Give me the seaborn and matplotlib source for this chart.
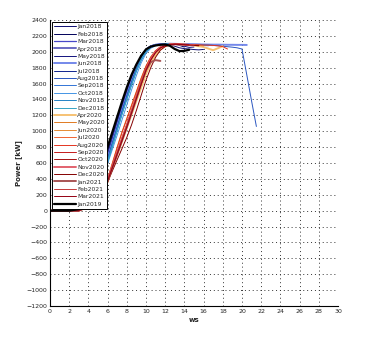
import matplotlib
matplotlib.use("Agg")
import matplotlib.pyplot as plt
import seaborn as sns
import pandas as pd

# wind-speed bins (m/s)
WS = [0, 1, 2, 3, 4, 5, 5.5, 6, 6.5, 7, 7.5, 8, 8.5, 9, 9.5, 10, 10.5, 11, 11.5,
      12, 12.5, 13, 13.5, 14, 14.5, 15, 15.5, 16, 16.5, 17, 17.5, 18, 18.5, 19,
      19.5, 20, 20.5, 21, 21.5]

labels = ["Jan2018", "Feb2018", "Mar2018", "Apr2018", "May2018", "Jun2018",
          "Jul2018", "Aug2018", "Sep2018", "Oct2018", "Nov2018", "Dec2018",
          "Apr2020", "May2020", "Jun2020", "Jul2020", "Aug2020", "Sep2020",
          "Oct2020", "Nov2020", "Dec2020", "Jan2021", "Feb2021", "Mar2021",
          "Jan2019"]

colors = ["#0c0c70", "#000058", "#4848c8", "#6a6ac4", "#12127e", "#7488ea",
          "#10248e", "#2a56c0", "#3274d6", "#4494e4", "#2484c6", "#34a4c4",
          "#f6c274", "#e07a22", "#e68c34", "#f06432", "#e43420", "#c41a1a",
          "#a41010", "#e2626e", "#840000", "#a85454", "#c43a3a", "#940012",
          "#000000"]

widths = [0.7, 0.7, 0.9, 1.4, 0.7, 1.4, 0.7, 0.7, 0.7, 0.7, 0.7, 0.7,
          1.4, 0.7, 0.7, 0.7, 0.7, 0.7, 0.7, 1.4, 0.7, 1.4, 0.7, 0.7, 1.6]

p_jan2018 = [0, 0, 0, 15, 130, 380, 560, 750, 950, 1140, 1330, 1510, 1680, 1830, 1950, 2035, 2075, 2090, 2095, 2098, 2090, 2070, 2050, 2040, 2035, 2028, 2024, 2030]
p_feb2018 = [0, 0, 0, 10, 120, 360, 540, 730, 930, 1120, 1310, 1490, 1660, 1810, 1935, 2025, 2070, 2088, 2095, 2098, 2100, 2095, 2080, 2060]
p_mar2018 = [0, 0, 0, 10, 110, 340, 520, 700, 900, 1100, 1290, 1470, 1640, 1800, 1930, 2025, 2070, 2088, 2095, 2098, 2100, 2098, 2095, 2090, 2088, 2085]
p_apr2018 = [0, 0, 0, 5, 100, 320, 500, 680, 880, 1080, 1270, 1460, 1630, 1790, 1920, 2020, 2068, 2088, 2095, 2098, 2100, 2098, 2096, 2094, 2092, 2090, 2088, 2085, 2082]
p_may2018 = [0, 0, 0, 10, 120, 350, 530, 710, 910, 1110, 1300, 1480, 1650, 1810, 1940, 2030, 2072, 2090, 2095, 2098, 2098, 2095, 2090, 2070, 2055, 2060]
p_jun2018 = [0, 0, 0, 5, 100, 310, 480, 660, 860, 1060, 1260, 1450, 1630, 1790, 1920, 2020, 2068, 2088, 2095, 2098, 2100, 2100, 2098, 2096, 2095, 2094, 2093, 2092, 2091, 2090, 2090, 2089, 2088, 2088, 2087, 2087, 2086]
p_jul2018 = [0, 0, 0, 5, 90, 300, 470, 640, 840, 1040, 1240, 1430, 1610, 1780, 1915, 2015, 2065, 2085, 2093, 2096, 2098, 2096, 2094, 2092, 2090, 2088, 2086]
p_aug2018 = [0, 0, 0, 5, 100, 310, 480, 650, 850, 1050, 1250, 1440, 1620, 1780, 1910, 2010, 2062, 2085, 2093, 2097, 2100, 2098, 2096, 2094, 2092, 2090, 2088, 2086, 2084, 2080, 2076, 2070, 2064, 2058, 2050, 2035, 1710, 1380, 1060]
p_sep2018 = [0, 0, 0, 0, 80, 280, 450, 620, 820, 1020, 1220, 1410, 1590, 1760, 1900, 2005, 2060, 2083, 2092, 2096, 2098, 2097, 2095, 2093, 2090, 2088]
p_oct2018 = [0, 0, 0, 0, 70, 250, 410, 590, 770, 950, 1140, 1330, 1520, 1700, 1860, 1980, 2045, 2075, 2090, 2095, 2098, 2096, 2094, 2092, 2090, 2088, 2085, 2083, 2080, 2078]
p_nov2018 = [0, 0, 0, 0, 75, 270, 440, 610, 810, 1010, 1210, 1400, 1580, 1755, 1895, 2000, 2058, 2082, 2091, 2095, 2098, 2097, 2095, 2093]
p_dec2018 = [0, 0, 0, 0, 80, 275, 445, 615, 815, 1015, 1215, 1405, 1590, 1765, 1905, 2008, 2060, 2084, 2092, 2096, 2098, 2096, 2094, 2091, 2089, 2086, 2084]
p_apr2020 = [0, 0, 0, 0, 50, 170, 260, 360, 530, 700, 870, 1040, 1210, 1380, 1550, 1720, 1860, 1960, 2030, 2070, 2090, 2095, 2093, 2090, 2085, 2080, 2070, 2060, 2040, 2020, 2045, 2070]
p_may2020 = [0, 0, 0, 0, 60, 190, 290, 400, 600, 800, 990, 1160, 1330, 1500, 1670, 1820, 1935, 2015, 2062, 2085, 2095, 2098, 2095, 2090, 2085]
p_jun2020 = [0, 0, 0, 0, 55, 180, 275, 380, 560, 740, 920, 1090, 1270, 1450, 1630, 1800, 1925, 2010, 2058, 2082, 2093, 2097, 2096, 2094, 2090, 2085, 2080, 2075]
p_jul2020 = [0, 0, 0, 0, 50, 175, 270, 375, 550, 725, 900, 1070, 1250, 1430, 1610, 1780, 1910, 2000, 2055, 2080, 2092, 2096, 2094, 2090, 2085, 2082]
p_aug2020 = [0, 0, 0, 0, 60, 190, 290, 400, 590, 790, 980, 1150, 1320, 1490, 1660, 1815, 1930, 2012, 2060, 2085, 2095, 2098, 2096, 2094, 2092, 2090, 2088, 2085, 2083, 2080, 2075, 2065, 2035]
p_sep2020 = [0, 0, 0, 0, 55, 185, 280, 390, 560, 735, 910, 1080, 1260, 1440, 1620, 1790, 1915, 2005, 2058, 2083, 2094, 2097, 2095, 2092, 2088]
p_oct2020 = [0, 0, 0, 0, 50, 175, 265, 370, 540, 710, 880, 1050, 1230, 1410, 1590, 1760, 1900, 1995, 2050, 2078, 2090, 2095, 2093, 2090, 2085, 2080, 2078]
p_nov2020 = [0, 0, 0, 0, 55, 180, 275, 385, 555, 730, 900, 1070, 1250, 1430, 1610, 1775, 1905, 2000, 2055, 2080, 2092, 2096, 2094, 2090, 2086, 2082]
p_dec2020 = [0, 0, 0, 0, 50, 170, 260, 360, 500, 640, 780, 920, 1080, 1260, 1450, 1640, 1800, 1930, 2020, 2065, 2088, 2095, 2093, 2089, 2085, 2080, 2076]
p_jan2021 = [0, 0, 0, 0, 50, 170, 260, 365, 540, 710, 880, 1050, 1230, 1410, 1600, 1770, 1870, 1895, 1885]
p_feb2021 = [0, 0, 0, 0, 55, 180, 275, 380, 550, 720, 890, 1060, 1240, 1420, 1600, 1770, 1900, 1995, 2050, 2080, 2093, 2097, 2095, 2092, 2088, 2085]
p_mar2021 = [0, 0, 0, 0, 50, 170, 265, 370, 540, 710, 880, 1050, 1230, 1410, 1590, 1765, 1895, 1990, 2048, 2078, 2090, 2095, 2093, 2090, 2087]
p_jan2019 = [0, 0, 0, 20, 150, 420, 600, 800, 990, 1180, 1370, 1550, 1710, 1840, 1950, 2030, 2065, 2080, 2088, 2092, 2075, 2035, 2008, 2012, 2025]

series = [p_jan2018, p_feb2018, p_mar2018, p_apr2018, p_may2018, p_jun2018,
          p_jul2018, p_aug2018, p_sep2018, p_oct2018, p_nov2018, p_dec2018,
          p_apr2020, p_may2020, p_jun2020, p_jul2020, p_aug2020, p_sep2020,
          p_oct2020, p_nov2020, p_dec2020, p_jan2021, p_feb2021, p_mar2021,
          p_jan2019]

x_ticks = list(range(0, 31, 2))
y_ticks = list(range(-1200, 2401, 200))

sns.set_style("white")
plt.rcParams['font.family'] = ['DejaVu Sans']

fig = plt.figure(figsize=(3.67, 3.45), dpi=100)
ax = fig.add_axes([0.136, 0.113, 0.785, 0.829])

for lab, col, lw, p in zip(labels, colors, widths, series):
    df = pd.DataFrame({"ws": WS[:len(p)], "power": p})
    sns.lineplot(data=df, x="ws", y="power", color=col, lw=lw, label=lab,
                 ax=ax, sort=False, estimator=None)

ax.set_xlim(0, 30)
ax.set_ylim(-1200, 2400)
ax.set_xticks(x_ticks)
ax.set_yticks(y_ticks)
ax.tick_params(labelsize=4.5, direction="in", length=2.5, width=0.6, pad=2)
ax.grid(True, linestyle=(0, (1, 3)), color="#333333", linewidth=0.7)
for s in ["top", "right"]:
    ax.spines[s].set_visible(False)
for s in ["left", "bottom"]:
    ax.spines[s].set_color("black")
    ax.spines[s].set_linewidth(0.8)

ax.set_xlabel("ws", fontsize=5, fontweight="bold", labelpad=2)
ax.set_ylabel("Power [kW]", fontsize=5, fontweight="bold", labelpad=3)

leg = ax.legend(loc="upper left", fontsize=4.3, frameon=True, fancybox=False,
                framealpha=1, edgecolor="black", handlelength=3.6,
                handletextpad=0.3, labelspacing=0.37, borderpad=0.4,
                borderaxespad=0.3)
leg.get_frame().set_linewidth(0.7)
leg.set_zorder(10)

fig.savefig("out.png", dpi=100, facecolor="white")
